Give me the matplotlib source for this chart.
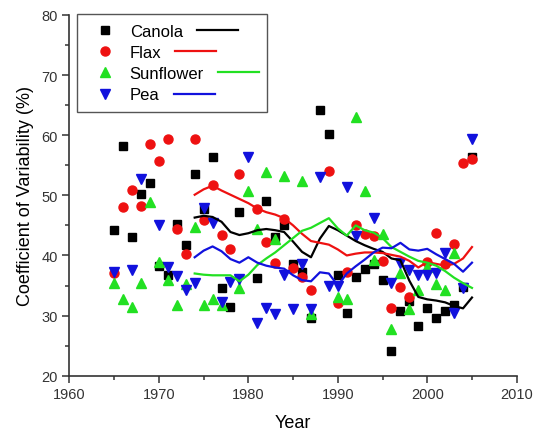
import numpy as np
import matplotlib.pyplot as plt
from matplotlib.lines import Line2D
from matplotlib.patches import Rectangle
from matplotlib.ticker import MultipleLocator

plt.rcParams['font.family'] = ['Liberation Sans', 'DejaVu Sans']

nan = np.nan

# yearly coefficient of variability (%), 1965-2005
years = np.arange(1965, 2006)
canola = [44.3, 58.2, 43.0, 50.2, 52.1, 38.2, 36.8, 45.3, 41.8, 53.5,
          47.8, 56.3, 34.6, 31.5, 47.3, nan, 36.3, 49.1, 43.0, 45.0,
          38.6, 37.2, 29.6, 64.2, 60.2, 36.7, 30.4, 36.5, 37.7, 38.5,
          35.9, 24.1, 30.8, 32.5, 28.2, 31.3, 29.6, 30.8, 31.8, 34.8,
          56.3]
flax = [37.0, 48.0, 50.9, 48.3, 58.6, 55.7, 59.3, 44.4, 40.3, 59.3,
        45.9, 51.8, 43.4, 41.1, 53.6, nan, 47.8, 42.2, 38.7, 46.1,
        37.9, 36.5, 34.3, nan, 54.0, 32.1, 37.2, 45.0, 43.6, 43.3,
        39.1, 31.2, 34.7, 33.1, nan, 38.9, 43.7, 38.5, 41.9, 55.3,
        56.0]
sunflower = [35.4, 32.8, 31.4, 35.4, 48.9, 38.9, 36.0, 31.7, 35.3, 44.8,
             31.8, 32.8, 31.8, nan, 34.6, 50.7, 44.4, 53.9, 42.8, 53.2,
             nan, 52.4, 30.3, nan, nan, 33.1, 32.7, 63.1, 50.8, 39.2,
             43.6, 27.8, 37.0, 31.1, 34.2, 38.1, 35.3, 34.2, 40.4, nan,
             nan]
pea = [37.2, nan, 37.5, 52.8, nan, 45.1, 38.0, 36.6, 34.2, 35.4,
       47.9, 45.4, 32.2, 35.6, 36.1, 56.4, 28.8, 31.3, 30.3, 36.7,
       31.1, 38.6, 31.1, 53.0, 34.9, 35.0, 51.4, 43.2, nan, 46.3,
       nan, 35.4, 38.7, 37.6, 36.8, 36.7, 37.0, 40.4, 30.4, 34.6,
       59.4]

# 10-year moving averages, 1974-2005
ma_years = np.arange(1974, 2006)
canola_ma = [46.3, 46.6, 46.4, 45.6, 43.9, 43.4, 43.7, 44.2, 44.4, 44.2,
             43.9, 42.3, 40.6, 39.7, 42.8, 44.9, 44.2, 43.3, 42.4, 41.7,
             41.1, 40.6, 39.5, 39.2, 35.8, 33.1, 32.7, 32.5, 32.2, 31.6,
             31.2, 33.0]
flax_ma = [50.1, 51.0, 51.6, 50.8, 50.1, 49.4, 48.7, 47.8, 47.2, 46.8,
           46.2, 45.0, 43.6, 42.4, 42.1, 41.8, 41.0, 40.0, 40.3, 40.5,
           40.5, 40.4, 40.1, 39.8, 39.1, 38.0, 38.9, 38.6, 38.3, 38.6,
           39.5, 41.4]
sunflower_ma = [37.0, 36.8, 36.7, 36.7, 36.7, 35.7, 36.8, 38.4, 39.5, 40.5,
                41.7, 42.9, 44.1, 44.6, 45.4, 46.2, 44.5, 43.3, 45.0, 44.2,
                43.8, 42.9, 41.4, 40.6, 39.8, 39.1, 38.8, 38.3, 37.4, 36.3,
                35.4, 34.6]
pea_ma = [39.7, 40.8, 41.5, 40.7, 39.4, 38.8, 39.7, 38.8, 38.3, 38.0,
          37.8, 36.7, 35.9, 35.7, 37.2, 37.0, 35.0, 37.0, 38.2, 39.3,
          40.5, 41.3, 41.2, 42.1, 41.0, 40.8, 41.1, 40.2, 39.4, 38.6,
          37.3, 38.8]

labels = ['Canola', 'Flax', 'Sunflower', 'Pea']
colors = ['#000000', '#ee1111', '#22e022', '#1111dd']
markers = ['s', 'o', '^', 'v']
msizes = [5.5, 6.5, 7, 7]
points = [canola, flax, sunflower, pea]
averages = [canola_ma, flax_ma, sunflower_ma, pea_ma]

fig = plt.figure(figsize=(5.34, 4.31), dpi=100)
ax = fig.add_axes([0.1301, 0.126, 0.8375, 0.8369])

handles = []
for vals, c, m, ms in zip(points, colors, markers, msizes):
    h, = ax.plot(years, vals, ls='none', marker=m, ms=ms, color=c, mec=c)
    handles.append(h)
for ma, c in zip(averages, colors):
    ax.plot(ma_years, ma, color=c, lw=1.6)

ax.set_xlim(1960, 2010)
ax.set_ylim(20, 80)
ax.xaxis.set_major_locator(MultipleLocator(10))
ax.xaxis.set_minor_locator(MultipleLocator(5))
ax.yaxis.set_major_locator(MultipleLocator(10))
ax.yaxis.set_minor_locator(MultipleLocator(5))
ax.tick_params(which='major', direction='out', length=5, width=1.1,
               labelsize=10.5, colors='#333333')
ax.tick_params(which='minor', direction='out', length=3, width=1.1, colors='#333333')
for s in ['top', 'right']:
    ax.spines[s].set_visible(False)
for s in ['left', 'bottom']:
    ax.spines[s].set_linewidth(1.2)
    ax.spines[s].set_color('#333333')

ax.set_xlabel('Year', fontsize=13, labelpad=9)
ax.set_ylabel('Coefficient of Variability (%)', fontsize=13, labelpad=5.5)

leg = ax.legend(handles, labels, loc='upper left', bbox_to_anchor=(0.0174, 1.003),
                borderaxespad=0, frameon=False, fontsize=12, handlelength=2.1,
                handletextpad=0.45, borderpad=0.6, labelspacing=0.37)

# Origin-style legend: line sample after each label, then frame around all
fig.canvas.draw()
r = fig.canvas.get_renderer()
inv = fig.transFigure.inverted()
right = 0
for txt, h, c in zip(leg.get_texts(), leg.legend_handles, colors):
    tb = txt.get_window_extent(r)
    hb = h.get_window_extent(r)
    y = (hb.y0 + hb.y1) / 2
    x0, x1 = tb.x1 + 14, tb.x1 + 55
    right = max(right, x1)
    (fx0, fy), (fx1, _) = inv.transform([(x0, y), (x1, y)])
    fig.add_artist(Line2D([fx0, fx1], [fy, fy], color=c, lw=1.6))
lb = leg.get_window_extent(r)
(ax0, ay0), (ax1, ay1) = inv.transform([(lb.x0, lb.y0), (right + 8, lb.y1)])
fig.add_artist(Rectangle((ax0, ay0), ax1 - ax0, ay1 - ay0, fill=False,
                         ec='#555555', lw=1.0))

fig.savefig('out.png', dpi=100)
